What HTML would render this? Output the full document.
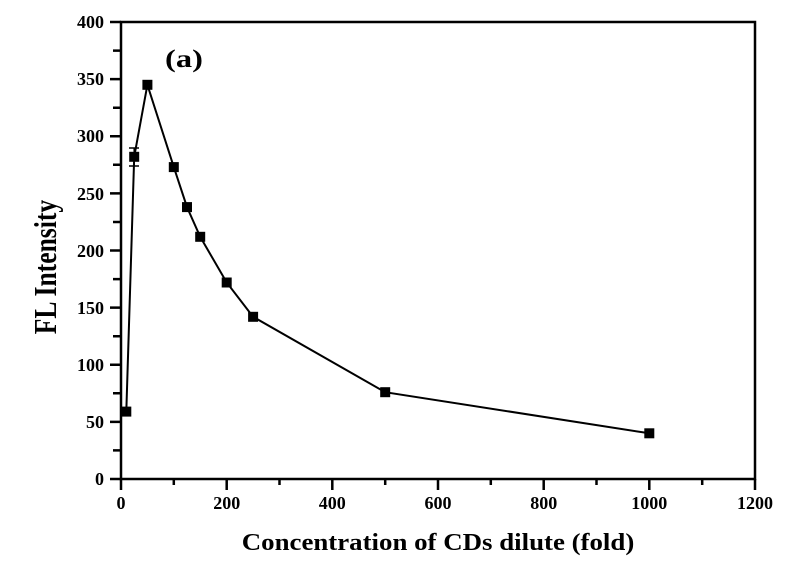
<!DOCTYPE html><html><head><style>body{margin:0;background:#fff}</style></head><body>
<svg width="796" height="570" xmlns="http://www.w3.org/2000/svg" font-family="Liberation Serif, serif" font-weight="bold">
<rect width="796" height="570" fill="#fff"/>
<g stroke="#000" stroke-width="2.5" fill="none">
<rect x="121" y="22" width="634" height="457"/>
<path d="M110 22H121M110 136.3H121M110 250.5H121M110 364.8H121M110 479H121M110 421.9H121M110 307.6H121M110 193.4H121M110 79.1H121
M113 450.4H121M113 393.3H121M113 336.2H121M113 279.1H121M113 222H121M113 164.8H121M113 107.7H121M113 50.6H121
M121 479V490M226.7 479V490M332.3 479V490M438 479V490M543.7 479V490M649.3 479V490M755 479V490
M173.8 479V485M279.5 479V485M385.2 479V485M490.8 479V485M596.5 479V485M702.2 479V485"/>
</g>
<g font-size="18" text-anchor="end">
<text x="104" y="485">0</text><text x="104" y="428">50</text><text x="104" y="371">100</text><text x="104" y="314">150</text><text x="104" y="257">200</text><text x="104" y="200">250</text><text x="104" y="142">300</text><text x="104" y="85">350</text><text x="104" y="28">400</text>
</g>
<g font-size="18" text-anchor="middle">
<text x="121" y="509">0</text><text x="226.7" y="509">200</text><text x="332.3" y="509">400</text><text x="438" y="509">600</text><text x="543.7" y="509">800</text><text x="649.3" y="509">1000</text><text x="755" y="509">1200</text>
</g>
<text transform="translate(438 550) scale(1.12 1)" font-size="24" text-anchor="middle">Concentration of CDs dilute (fold)</text>
<text transform="translate(56 267) rotate(-90) scale(0.8 1)" font-size="32" text-anchor="middle">FL Intensity</text>
<text transform="translate(165 67) scale(1.3 1)" font-size="25">(a)</text>
<polyline fill="none" stroke="#000" stroke-width="2" points="126.3,411.6 134.2,156.8 147.4,84.8 173.8,167.1 187,207.1 200.2,236.8 226.7,282.5 253.1,316.8 385.2,392.2 649.3,433.3"/>
<path d="M134.2 148V166M129 148H139M129 166H139" stroke="#000" stroke-width="1.5"/>
<g fill="#000">
<rect x="121.3" y="406.6" width="10" height="10"/><rect x="129.2" y="151.8" width="10" height="10"/><rect x="142.4" y="79.8" width="10" height="10"/><rect x="168.8" y="162.1" width="10" height="10"/><rect x="182" y="202.1" width="10" height="10"/><rect x="195.2" y="231.8" width="10" height="10"/><rect x="221.7" y="277.5" width="10" height="10"/><rect x="248.1" y="311.8" width="10" height="10"/><rect x="380.2" y="387.2" width="10" height="10"/><rect x="644.3" y="428.3" width="10" height="10"/>
</g>
</svg>
</body></html>
